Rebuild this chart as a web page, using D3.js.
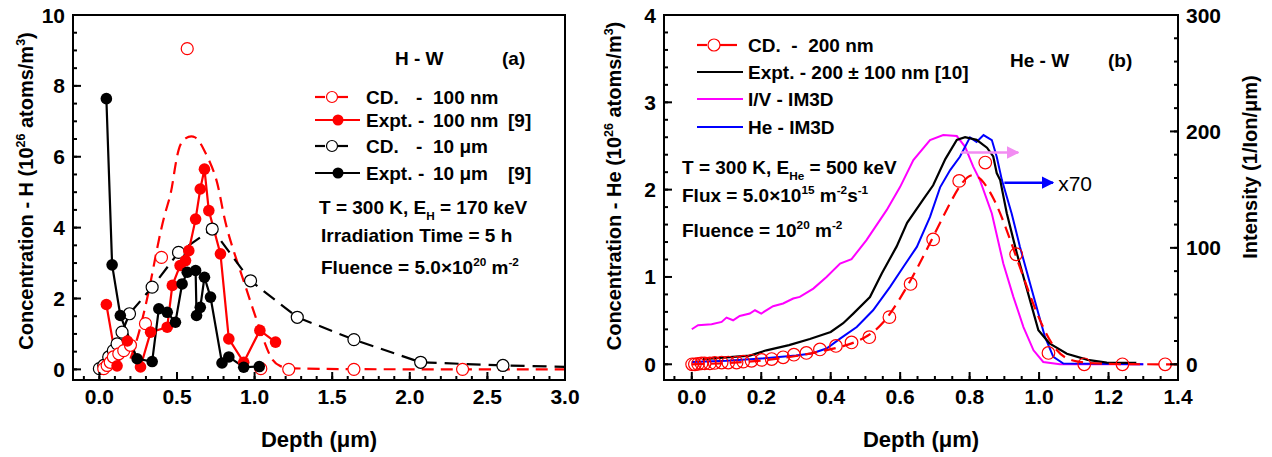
<!DOCTYPE html>
<html>
<head>
<meta charset="utf-8">
<script src="https://cdn.jsdelivr.net/npm/d3@7"></script>
<style>
  body { margin: 0; background: #fff; }
  svg { font-family: "Liberation Sans", Arial, sans-serif; font-weight: bold; }
</style>
</head>
<body>
<svg width="1272" height="457"></svg>
<script>
// ---- panel (a) : H - W ----
const cd100Curve = [[0.2,0.3],[0.25,0.9],[0.32,2.2],[0.37,3.4],[0.42,4.4],[0.46,4.9],[0.48,5.5],[0.51,6.3],[0.55,6.55],[0.62,6.62],[0.67,6.25],[0.75,5.5],[0.78,4.85],[0.82,3.9],[0.93,2.5],[0.985,1.75],[1.06,0.8],[1.1,0.35],[1.15,0.05],[1.3,0],[3.0,0]];
const cd100Pts = [[0.028,0.02],[0.05,0.11],[0.07,0.2],[0.09,0.35],[0.125,0.44],[0.157,0.53],[0.2,0.68],[0.297,1.29],[0.40,3.16],[0.566,9.05],[1.04,0.02],[1.22,0],[1.64,0],[2.34,0]];
const expt100 = [[0.045,1.83],[0.114,0.1],[0.18,0.8],[0.265,0.07],[0.33,1.05],[0.437,1.19],[0.47,2.37],[0.52,2.93],[0.555,3.07],[0.576,3.35],[0.62,4.24],[0.65,5.09],[0.677,5.65],[0.705,4.48],[0.78,3.26],[0.834,0.86],[0.93,0.2],[1.034,1.1],[1.135,0.77]];
const cd10um = [[0.0,0.02],[0.028,0.11],[0.06,0.35],[0.09,0.53],[0.114,0.72],[0.146,1.05],[0.194,1.57],[0.34,2.32],[0.51,3.3],[0.727,3.96],[0.974,2.5],[1.275,1.47],[1.64,0.84],[2.07,0.2],[2.6,0.11],[3.0,0.07]];
const expt10um = [[0.045,7.64],[0.082,2.95],[0.135,1.52],[0.243,0.3],[0.34,0.22],[0.383,1.71],[0.437,1.61],[0.49,1.33],[0.533,2.41],[0.566,2.74],[0.62,2.79],[0.626,1.52],[0.65,1.75],[0.677,2.6],[0.716,2.04],[0.79,0.18],[0.834,0.35],[0.93,0.06],[1.03,0.08]];

// ---- panel (b) : He - W ----
const cd200Curve = [[0,0],[0.1,0.01],[0.2,0.04],[0.3,0.09],[0.4,0.17],[0.45,0.22],[0.5,0.3],[0.55,0.45],[0.6,0.75],[0.65,1.1],[0.7,1.5],[0.75,1.9],[0.78,2.1],[0.81,2.2],[0.84,2.1],[0.87,1.9],[0.9,1.62],[0.95,1.05],[1.0,0.5],[1.05,0.12],[1.1,0.02],[1.2,0],[1.4,0]];
const cd200Pts = [[0.001,0],[0.009,0],[0.018,0.005],[0.028,0.01],[0.037,0.01],[0.052,0.01],[0.066,0.015],[0.086,0.02],[0.105,0.02],[0.129,0.02],[0.148,0.03],[0.172,0.04],[0.201,0.05],[0.23,0.06],[0.263,0.08],[0.294,0.11],[0.33,0.13],[0.369,0.17],[0.415,0.21],[0.46,0.25],[0.511,0.31],[0.569,0.54],[0.63,0.92],[0.695,1.43],[0.77,2.1],[0.845,2.31],[0.934,1.26],[1.027,0.13],[1.13,0],[1.24,0],[1.363,0]];
const expt200 = [[0.032,0.06],[0.1,0.08],[0.167,0.1],[0.215,0.16],[0.28,0.22],[0.34,0.29],[0.4,0.37],[0.436,0.47],[0.465,0.58],[0.513,0.77],[0.547,1.04],[0.59,1.35],[0.62,1.62],[0.667,1.89],[0.695,2.05],[0.73,2.35],[0.763,2.57],[0.787,2.6],[0.82,2.57],[0.85,2.48],[0.868,2.38],[0.878,2.19],[0.888,2.11],[0.907,1.73],[0.936,1.27],[0.96,0.93],[0.979,0.66],[0.998,0.39],[1.03,0.24],[1.08,0.12],[1.14,0.05],[1.195,0.02],[1.28,0.015]];
// intensities on the right axis (1/Ion/um)
const ivIm3d = [[0,30.1],[0.018,33.5],[0.057,34.4],[0.086,36.4],[0.1,40.1],[0.119,37.8],[0.138,41.5],[0.167,43.6],[0.182,46.4],[0.2,43.6],[0.234,49.9],[0.263,52.2],[0.292,56.5],[0.311,57.9],[0.35,65],[0.388,75],[0.427,86.5],[0.46,90.3],[0.503,106.6],[0.561,132.4],[0.6,152.4],[0.638,175.4],[0.686,192.6],[0.724,196.9],[0.763,196],[0.787,186.8],[0.81,170],[0.83,158],[0.864,129.5],[0.897,86.6],[0.926,57.9],[0.955,32],[0.984,12],[1.012,2],[1.06,0],[1.3,0]];
const heIm3d = [[0,2],[0.1,3],[0.2,5],[0.3,7.5],[0.345,9.2],[0.388,13.5],[0.427,22],[0.475,32],[0.522,46.4],[0.571,66.5],[0.609,83.6],[0.648,100.8],[0.686,126.6],[0.715,152],[0.744,166.8],[0.772,178.2],[0.801,194.9],[0.82,191],[0.84,196.9],[0.864,192.6],[0.878,178.2],[0.893,158.2],[0.921,129.5],[0.945,100.8],[0.974,69.4],[0.998,43.6],[1.017,23.5],[1.041,6.3],[1.07,0.6],[1.3,0]];

const xTicksA = [0, 0.5, 1.0, 1.5, 2.0, 2.5, 3.0];
const yTicksA = [0, 2, 4, 6, 8, 10];
const xTicksB = [0, 0.2, 0.4, 0.6, 0.8, 1.0, 1.2, 1.4];
const yTicksB = [0, 1, 2, 3, 4];
const yTicksB2 = [0, 100, 200, 300];

const svg = d3.select('svg');
const TICK_FS = 21;

// rich text helper: parts = [[text, 'sup'|'sub'|'']]
function rich(sel, parts, size) {
  let shift = 0;
  parts.forEach(([t, k]) => {
    let target = k === 'sup' ? -size * 0.42 : k === 'sub' ? size * 0.3 : 0;
    let s = sel.append('tspan').text(t).attr('dy', target - shift);
    if (k) s.attr('font-size', size * 0.62);
    shift = target;
  });
  return sel;
}

function frame(x, y) {
  let [x0, x1] = x.range(), [y0, y1] = y.range();
  svg.append('rect').attr('x', x0).attr('y', y1).attr('width', x1 - x0).attr('height', y0 - y1)
    .attr('fill', 'none').attr('stroke', '#000').attr('stroke-width', 2);
}

function range(a, b, s) { let r = []; for (let v = a; v <= b + 1e-9; v += s) r.push(+v.toFixed(4)); return r; }

// inward ticks drawn from the scales
function xTicks(x, y, major, minor, fmt) {
  let y0 = y.range()[0];
  let g = svg.append('g');
  g.selectAll('line.mn').data(minor).join('line').attr('class', 'mn')
    .attr('x1', d => x(d)).attr('x2', d => x(d)).attr('y1', y0).attr('y2', y0 - 4);
  g.selectAll('line.mj').data(major).join('line').attr('class', 'mj')
    .attr('x1', d => x(d)).attr('x2', d => x(d)).attr('y1', y0).attr('y2', y0 - 8);
  g.selectAll('line').attr('stroke', '#000').attr('stroke-width', 2);
  g.selectAll('text').data(major).join('text')
    .attr('x', d => x(d)).attr('y', y0 + 24).attr('text-anchor', 'middle').attr('font-size', TICK_FS).text(fmt);
}
function yTicks(x, y, major, minor, fmt, side) {
  let x0 = side === 'right' ? x.range()[1] : x.range()[0];
  let k = side === 'right' ? -1 : 1;
  let g = svg.append('g');
  g.selectAll('line.mn').data(minor).join('line').attr('class', 'mn')
    .attr('x1', x0).attr('x2', x0 + k * 4).attr('y1', d => y(d)).attr('y2', d => y(d));
  g.selectAll('line.mj').data(major).join('line').attr('class', 'mj')
    .attr('x1', x0).attr('x2', x0 + k * 8).attr('y1', d => y(d)).attr('y2', d => y(d));
  g.selectAll('line').attr('stroke', '#000').attr('stroke-width', 2);
  g.selectAll('text').data(major).join('text')
    .attr('x', x0 - k * 8).attr('y', d => y(d) + 7.5)
    .attr('text-anchor', side === 'right' ? 'start' : 'end').attr('font-size', TICK_FS).text(fmt);
}

// ===== Panel A =====
const xA = d3.scaleLinear([-0.17, 3.0], [73, 565]);
const yA = d3.scaleLinear([-0.3, 10], [380, 15]);
const lineA = d3.line().x(d => xA(d[0])).y(d => yA(d[1]));

svg.append('path').attr('d', lineA.curve(d3.curveBasis)(cd100Curve)).attr('fill', 'none')
  .attr('stroke', '#f00').attr('stroke-width', 2.2).attr('stroke-dasharray', '12,7');
lineA.curve(d3.curveLinear);
svg.append('path').attr('d', lineA(cd10um)).attr('fill', 'none')
  .attr('stroke', '#000').attr('stroke-width', 2.2).attr('stroke-dasharray', '14,8');
svg.append('path').attr('d', lineA(expt100)).attr('fill', 'none').attr('stroke', '#f00').attr('stroke-width', 2.2);
svg.append('path').attr('d', lineA(expt10um)).attr('fill', 'none').attr('stroke', '#000').attr('stroke-width', 2.2);

svg.append('g').selectAll('circle').data(cd10um.slice(0, -1)).join('circle')
  .attr('cx', d => xA(d[0])).attr('cy', d => yA(d[1])).attr('r', 6)
  .attr('fill', '#fff').attr('stroke', '#000').attr('stroke-width', 1.2);
svg.append('g').selectAll('circle').data(cd100Pts).join('circle')
  .attr('cx', d => xA(d[0])).attr('cy', d => yA(d[1])).attr('r', 6)
  .attr('fill', '#fff').attr('stroke', '#f00').attr('stroke-width', 1.2);
svg.append('g').selectAll('circle').data(expt100).join('circle')
  .attr('cx', d => xA(d[0])).attr('cy', d => yA(d[1])).attr('r', 5.8).attr('fill', '#f00');
svg.append('g').selectAll('circle').data(expt10um).join('circle')
  .attr('cx', d => xA(d[0])).attr('cy', d => yA(d[1])).attr('r', 5.8).attr('fill', '#000');

frame(xA, yA);
xTicks(xA, yA, xTicksA, range(-0.1, 3.0, 0.1), d3.format('.1f'));
yTicks(xA, yA, yTicksA, range(0, 10, 0.5), d3.format('d'), 'left');

// ===== Panel B =====
const xB = d3.scaleLinear([-0.08, 1.4], [664, 1178]);
const yB = d3.scaleLinear([-0.18, 4], [380, 15]);
const yB2 = d3.scaleLinear([-13.5, 300], [380, 15]);
const lineB = d3.line().x(d => xB(d[0])).y(d => yB(d[1]));
const lineB2 = d3.line().x(d => xB(d[0])).y(d => yB2(d[1]));

svg.append('path').attr('d', lineB2(ivIm3d)).attr('fill', 'none').attr('stroke', '#f0f').attr('stroke-width', 2);
svg.append('path').attr('d', lineB2(heIm3d)).attr('fill', 'none').attr('stroke', '#00f').attr('stroke-width', 2);
svg.append('path').attr('d', lineB(expt200)).attr('fill', 'none').attr('stroke', '#000').attr('stroke-width', 2.2);
svg.append('path').attr('d', lineB.curve(d3.curveBasis)(cd200Curve)).attr('fill', 'none')
  .attr('stroke', '#f00').attr('stroke-width', 2.2).attr('stroke-dasharray', '12,7');
svg.append('g').selectAll('circle').data(cd200Pts).join('circle')
  .attr('cx', d => xB(d[0])).attr('cy', d => yB(d[1])).attr('r', 6.3)
  .attr('fill', 'none').attr('stroke', '#f00').attr('stroke-width', 1.2);

// arrows
const defs = svg.append('defs');
[['ah-pink', '#f28cf2'], ['ah-blue', '#00f']].forEach(([id, c]) => {
  defs.append('marker').attr('id', id).attr('viewBox', '0 0 10 10').attr('refX', 9).attr('refY', 5)
    .attr('markerWidth', 5).attr('markerHeight', 5).attr('orient', 'auto')
    .append('path').attr('d', 'M0,0L10,5L0,10z').attr('fill', c);
});
svg.append('line').attr('x1', xB(0.775)).attr('x2', xB(0.94)).attr('y1', yB2(182)).attr('y2', yB2(182))
  .attr('stroke', '#f28cf2').attr('stroke-width', 2.5).attr('marker-end', 'url(#ah-pink)');
svg.append('line').attr('x1', xB(0.90)).attr('x2', xB(1.04)).attr('y1', yB2(156)).attr('y2', yB2(156))
  .attr('stroke', '#00f').attr('stroke-width', 2.5).attr('marker-end', 'url(#ah-blue)');
svg.append('text').attr('x', xB(1.055)).attr('y', yB2(156) + 8).attr('font-size', 21).attr('font-weight', 'normal').text('x70');

frame(xB, yB);
xTicks(xB, yB, xTicksB, range(-0.05, 1.4, 0.05), d3.format('.1f'));
yTicks(xB, yB, yTicksB, range(0, 4, 0.2), d3.format('d'), 'left');
yTicks(xB, yB2, yTicksB2, range(0, 300, 20), d3.format('d'), 'right');

// ===== text =====
function label(x, y, parts, size, opts = {}) {
  let t = svg.append('text').attr('x', x).attr('y', y).attr('font-size', size);
  if (opts.anchor) t.attr('text-anchor', opts.anchor);
  if (opts.rotate) t.attr('transform', `rotate(-90,${x},${y})`);
  if (opts.weight) t.attr('font-weight', opts.weight);
  return rich(t, parts, size);
}

// axis titles
label(319, 447, [['Depth (μm)', '']], 22, { anchor: 'middle' });
label(921, 447, [['Depth (μm)', '']], 22, { anchor: 'middle' });
label(33, 191, [['Concentration - H (10', ''], ['26', 'sup'], [' atoms/m', ''], ['3', 'sup'], [')', '']], 20, { anchor: 'middle', rotate: true });
label(621, 186, [['Concentration - He (10', ''], ['26', 'sup'], [' atoms/m', ''], ['3', 'sup'], [')', '']], 20, { anchor: 'middle', rotate: true });
label(1257, 167, [['Intensity (1/Ion/μm)', '']], 20, { anchor: 'middle', rotate: true });

const FS = 19;
// panel a annotations
label(395, 65, [['H - W', '']], FS);
label(502, 65, [['(a)', '']], FS);
const legA = [
  { a: 'CD.', b: '-', c: '100 nm', ref: '', col: '#f00', open: true },
  { a: 'Expt.', b: '-', c: '100 nm', ref: '[9]', col: '#f00', open: false },
  { a: 'CD.', b: '-', c: '10 μm', ref: '', col: '#000', open: true },
  { a: 'Expt.', b: '-', c: '10 μm', ref: '[9]', col: '#000', open: false }
];
[97, 120, 146, 173].forEach((y, i) => {
  let d = legA[i];
  if (d.open) {
    svg.append('line').attr('x1', 315).attr('x2', 325).attr('y1', y).attr('y2', y).attr('stroke', d.col).attr('stroke-width', 2.2);
    svg.append('line').attr('x1', 338).attr('x2', 348).attr('y1', y).attr('y2', y).attr('stroke', d.col).attr('stroke-width', 2.2);
    svg.append('circle').attr('cx', 332).attr('cy', y).attr('r', 5.5).attr('fill', '#fff').attr('stroke', d.col).attr('stroke-width', 1.2);
  } else {
    svg.append('line').attr('x1', 315).attr('x2', 360).attr('y1', y).attr('y2', y).attr('stroke', d.col).attr('stroke-width', 2.2);
    svg.append('circle').attr('cx', 338).attr('cy', y).attr('r', 5.5).attr('fill', d.col);
  }
  svg.append('text').attr('x', 366).attr('y', y + 7).attr('font-size', FS).text(d.a);
  svg.append('text').attr('x', d.open ? 416 : 418).attr('y', y + 7).attr('font-size', FS).text(d.b);
  svg.append('text').attr('x', 433).attr('y', y + 7).attr('font-size', FS).text(d.c);
  if (d.ref) svg.append('text').attr('x', 508).attr('y', y + 7).attr('font-size', FS).text(d.ref);
});
label(319, 214, [['T = 300 K, E', ''], ['H', 'sub'], [' = 170 keV', '']], FS);
label(321, 242, [['Irradiation Time = 5 h', '']], FS);
label(321, 274, [['Fluence = 5.0', ''], ['×', ''], ['10', ''], ['20', 'sup'], [' m', ''], ['-2', 'sup']], FS);

// panel b annotations
label(1010, 67, [['He - W', '']], FS);
label(1108, 67, [['(b)', '']], FS);
const legB = [
  { t: 'CD.  -  200 nm', c: '#f00', sym: true },
  { t: 'Expt. - 200 ± 100 nm [10]', c: '#000' },
  { t: 'I/V - IM3D', c: '#f0f' },
  { t: 'He - IM3D', c: '#00f' }
];
[45, 72, 99, 127].forEach((y, i) => {
  let d = legB[i];
  if (d.sym) {
    svg.append('line').attr('x1', 697).attr('x2', 707).attr('y1', y).attr('y2', y).attr('stroke', d.c).attr('stroke-width', 2.2);
    svg.append('line').attr('x1', 720).attr('x2', 737).attr('y1', y).attr('y2', y).attr('stroke', d.c).attr('stroke-width', 2.2);
    svg.append('circle').attr('cx', 714).attr('cy', y).attr('r', 6).attr('fill', '#fff').attr('stroke', d.c).attr('stroke-width', 1.2);
  } else {
    svg.append('line').attr('x1', 697).attr('x2', 743).attr('y1', y).attr('y2', y).attr('stroke', d.c).attr('stroke-width', 2.2);
  }
  svg.append('text').attr('x', 748).attr('y', y + 7).attr('font-size', FS).style('white-space', 'pre').text(d.t);
});
label(682, 174, [['T = 300 K, E', ''], ['He', 'sub'], [' = 500 keV', '']], FS);
label(682, 202, [['Flux = 5.0', ''], ['×', ''], ['10', ''], ['15', 'sup'], [' m', ''], ['-2', 'sup'], ['s', ''], ['-1', 'sup']], FS);
label(682, 237, [['Fluence = 10', ''], ['20', 'sup'], [' m', ''], ['-2', 'sup']], FS);
</script>
</body>
</html>
